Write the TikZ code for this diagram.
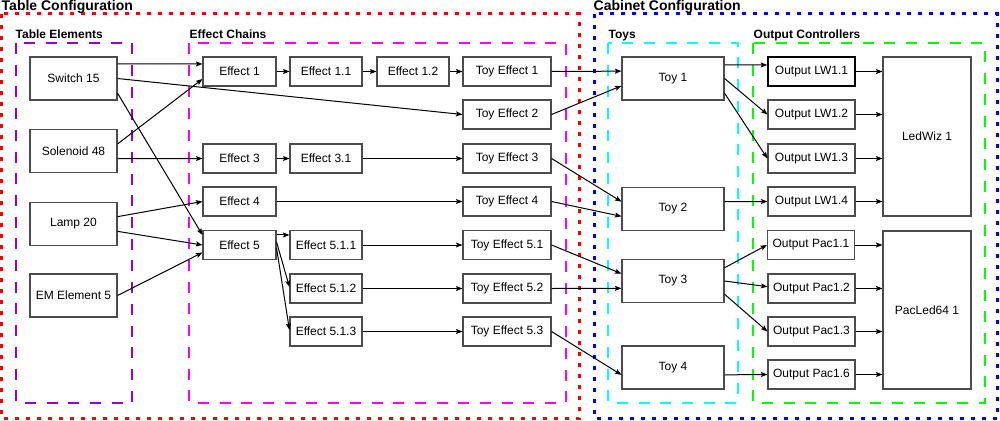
\documentclass[tikz,border=0pt]{standalone}
\usepackage{fontspec}
\setmainfont{Liberation Sans}
\usetikzlibrary{arrows.meta,calc}
\definecolor{cred}{RGB}{255,0,0}
\definecolor{cblue}{RGB}{0,0,255}
\definecolor{cpurple}{RGB}{153,0,204}
\definecolor{cmag}{RGB}{255,0,255}
\definecolor{ccyan}{RGB}{0,255,255}
\definecolor{cgreen}{RGB}{0,255,0}
\tikzset{
  box/.style={draw=black!70, line width=1.1pt, fill=white, inner sep=0pt,
    font=\fontsize{12pt}{14pt}\selectfont},
  bigbox/.style={box, minimum width=87pt, minimum height=43pt},
  effbox/.style={box, minimum width=73pt, minimum height=29pt},
  toyeff/.style={box, minimum width=88pt, minimum height=29pt},
  toybox/.style={box, minimum width=102pt, minimum height=43pt},
  outbox/.style={box, minimum width=87pt, minimum height=29pt},
  ctrlbox/.style={box, minimum width=88pt},
  arr/.style={-{Stealth[length=6.5pt,width=5pt,inset=1.2pt]}, line width=1pt, black},
  dotbox/.style={line width=3pt, dash pattern=on 4pt off 7pt},
  dashbox/.style={line width=2pt, dash pattern=on 11pt off 10.7pt},
  bigtitle/.style={anchor=base west, inner sep=0pt, font=\fontsize{14pt}{16pt}\selectfont\bfseries},
  subtitle/.style={anchor=base west, inner sep=0pt, font=\fontsize{12pt}{14pt}\selectfont\bfseries},
}
\begin{document}
\begin{tikzpicture}[x=1pt,y=-1pt]
\useasboundingbox (0,0) rectangle (1000,420);
% containers
\draw[dotbox, cred] (1.5,14) rectangle (579,418.5);
\draw[dotbox, cblue] (594,14) rectangle (997,418.5);
\draw[dashbox, cpurple] (16,43) rectangle (132,403);
\draw[dashbox, cmag] (189,43) rectangle (566,403);
\draw[dashbox, ccyan] (608,43) rectangle (738,403);
\draw[dashbox, cgreen] (753,43) rectangle (985,403);
% titles
\node[bigtitle] (tcfg) at (1.5,11) {Table Configuration};
\node[bigtitle] (ccfg) at (593.5,11) {Cabinet Configuration};
\node[subtitle] (tel) at (15.5,38) {Table Elements};
\node[subtitle] (ech) at (189.5,38) {Effect Chains};
\node[subtitle] (toys) at (608.5,38) {Toys};
\node[subtitle] (octl) at (753.5,38) {Output Controllers};
% table elements
\node[bigbox] (sw15) at (73.5,78.5) {Switch 15};
\node[bigbox] (sol48) at (73.5,151.3) {Solenoid 48};
\node[bigbox] (lamp) at (73.5,224) {Lamp 20};
\node[bigbox] (em5) at (73.5,295.5) {EM Element 5};
% effects
\node[effbox] (e1) at (239.5,71.5) {Effect 1};
\node[effbox] (e3) at (239.5,158.5) {Effect 3};
\node[effbox] (e4) at (239.5,201.5) {Effect 4};
\node[effbox] (e5) at (239.5,245) {Effect 5};
\node[effbox, minimum width=72pt] (e11) at (326,71.5) {Effect 1.1};
\node[effbox, minimum width=72pt] (e31) at (326,158.5) {Effect 3.1};
\node[effbox, minimum width=72pt] (e511) at (326,245) {Effect 5.1.1};
\node[effbox, minimum width=72pt] (e512) at (326,288.5) {Effect 5.1.2};
\node[effbox, minimum width=72pt] (e513) at (326,331.5) {Effect 5.1.3};
\node[effbox, minimum width=72pt] (e12) at (413,71.5) {Effect 1.2};
% toy effects
\node[toyeff] (te1) at (507,71.5) {Toy Effect 1};
\node[toyeff] (te2) at (507,114.5) {Toy Effect 2};
\node[toyeff] (te3) at (507,158.5) {Toy Effect 3};
\node[toyeff] (te4) at (507,201.5) {Toy Effect 4};
\node[toyeff] (te51) at (507,245) {Toy Effect 5.1};
\node[toyeff] (te52) at (507,288.5) {Toy Effect 5.2};
\node[toyeff] (te53) at (507,331.5) {Toy Effect 5.3};
% toys
\node[toybox] (toy1) at (673,78.5) {Toy 1};
\node[toybox] (toy2) at (673,209) {Toy 2};
\node[toybox] (toy3) at (673,281) {Toy 3};
\node[toybox] (toy4) at (673,367.5) {Toy 4};
% outputs
\node[outbox, draw=black, line width=1.6pt] (lw11) at (811.5,71.5) {Output LW1.1};
\node[outbox] (lw12) at (811.5,114.5) {Output LW1.2};
\node[outbox] (lw13) at (811.5,158.5) {Output LW1.3};
\node[outbox] (lw14) at (811.5,201.5) {Output LW1.4};
\node[outbox] (pac11) at (811,245) {Output Pac1.1};
\node[outbox] (pac12) at (811.5,288.5) {Output Pac1.2};
\node[outbox] (pac13) at (811.5,331.5) {Output Pac1.3};
\node[outbox] (pac16) at (811.5,374.5) {Output Pac1.6};
% controllers
\node[ctrlbox, minimum height=159pt] (ledwiz) at (927,136.5) {LedWiz 1};
\node[ctrlbox, minimum height=158pt] (pacled) at (927,310) {PacLed64 1};
% edges: table elements -> effects
\draw[arr] ($(sw15.north east)!1/6!(sw15.south east)$) -- ($(e1.north west)!1/4!(e1.south west)$);
\draw[arr] (sw15.east) -- (te2.west);
\draw[arr] ($(sw15.north east)!5/6!(sw15.south east)$) -- ($(e5.north west)!1/6!(e5.south west)$);
\draw[arr] ($(sol48.north east)!1/3!(sol48.south east)$) -- ($(e1.north west)!3/4!(e1.south west)$);
\draw[arr] ($(sol48.north east)!2/3!(sol48.south east)$) -- (e3.west);
\draw[arr] ($(lamp.north east)!1/3!(lamp.south east)$) -- (e4.west);
\draw[arr] ($(lamp.north east)!2/3!(lamp.south east)$) -- (e5.west);
\draw[arr] (em5.east) -- ($(e5.north west)!3/4!(e5.south west)$);
% effect chains
\draw[arr] (e1) -- (e11);
\draw[arr] (e11) -- (e12);
\draw[arr] (e12) -- (te1);
\draw[arr] (e3) -- (e31);
\draw[arr] (e31) -- (te3);
\draw[arr] (e4) -- (te4);
\draw[arr] ($(e5.north east)!1/6!(e5.south east)$) -- ($(e511.north west)!1/6!(e511.south west)$);
\draw[arr] ($(e5.north east)!0.4!(e5.south east)$) -- ($(e512.north west)!0.45!(e512.south west)$);
\draw[arr] ($(e5.north east)!0.6!(e5.south east)$) -- ($(e513.north west)!0.45!(e513.south west)$);
\draw[arr] (e511) -- (te51);
\draw[arr] (e512) -- (te52);
\draw[arr] (e513) -- (te53);
% toy effects -> toys
\draw[arr] (te1.east) -- ($(toy1.north west)!1/3!(toy1.south west)$);
\draw[arr] (te2.east) -- ($(toy1.north west)!2/3!(toy1.south west)$);
\draw[arr] (te3.east) -- ($(toy2.north west)!1/3!(toy2.south west)$);
\draw[arr] (te4.east) -- ($(toy2.north west)!2/3!(toy2.south west)$);
\draw[arr] (te51.east) -- ($(toy3.north west)!1/3!(toy3.south west)$);
\draw[arr] (te52.east) -- ($(toy3.north west)!2/3!(toy3.south west)$);
\draw[arr] (te53.east) -- ($(toy4.north west)!2/3!(toy4.south west)$);
% toys -> outputs
\draw[arr] ($(toy1.north east)!0.193!(toy1.south east)$) -- ($(lw11.north west)!0.286!(lw11.south west)$);
\draw[arr] (toy1.east) -- (lw12.west);
\draw[arr] ($(toy1.north east)!5/6!(toy1.south east)$) -- (lw13.west);
\draw[arr] ($(toy2.north east)!1/3!(toy2.south east)$) -- (lw14.west);
\draw[arr] ($(toy3.north east)!0.2!(toy3.south east)$) -- (pac11.west);
\draw[arr] (toy3.east) -- ($(pac12.north west)!0.44!(pac12.south west)$);
\draw[arr] ($(toy3.north east)!0.8!(toy3.south east)$) -- (pac13.west);
\draw[arr] ($(toy4.north east)!2/3!(toy4.south east)$) -- (pac16.west);
% outputs -> controllers
\foreach \o in {lw11,lw12,lw13,lw14} \draw[arr] (\o.east) -- (\o.east -| ledwiz.west);
\foreach \o in {pac11,pac12,pac13,pac16} \draw[arr] (\o.east) -- (\o.east -| pacled.west);
\end{tikzpicture}
\end{document}
